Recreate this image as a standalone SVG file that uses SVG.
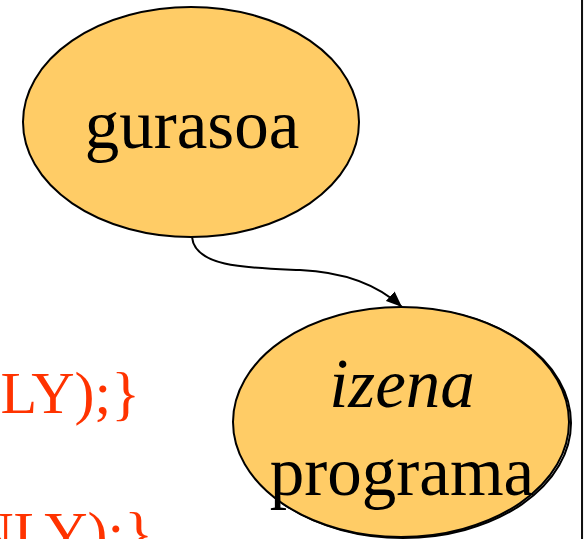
<svg xmlns="http://www.w3.org/2000/svg" width="584" height="539" viewBox="0 0 584 539">
<style>
.node{fill:#FFCC66;stroke:#000;stroke-width:2}
.lbl{font-family:"Liberation Serif","Times New Roman",serif;font-size:69px;fill:#000;text-anchor:middle}
.code{font-family:"Liberation Serif","Times New Roman",serif;font-size:60px;fill:#FF3300;text-anchor:end}
.edge{fill:none;stroke:#000;stroke-width:2}
</style>
<defs>
<marker id="arr" markerUnits="userSpaceOnUse" markerWidth="17" markerHeight="13" refX="16" refY="6.5" orient="auto">
<path d="M0,0 L16,6.5 L0,13 z" fill="#000"/>
</marker>
</defs>
<rect x="0" y="0" width="584" height="539" fill="#fff"/>
<rect x="582" y="0" width="2" height="539" fill="#f4f4f4"/>
<line x1="582" y1="0" x2="582" y2="539" stroke="#111" stroke-width="2"/>
<g id="code">
<text class="code" x="140" y="413">LY);}</text>
<text class="code" x="153" y="553">NLY);}</text>
</g>
<g id="connectors">
<path class="edge" d="M192,237 C195,268 250,268 300,270 C345,272 378,285 402,307" marker-end="url(#arr)"/>
</g>
<g id="gurasoa">
<ellipse class="node" cx="191" cy="122" rx="168" ry="115"/>
<text class="lbl" x="192" y="148">gurasoa</text>
</g>
<g id="programa">
<ellipse cx="403" cy="423" rx="168" ry="115" fill="none" stroke="#000" stroke-width="2"/>
<ellipse class="node" cx="401" cy="422" rx="168" ry="115"/>
<text class="lbl" x="402" y="407" font-style="italic">izena</text>
<text class="lbl" x="402" y="495">programa</text>
</g>
</svg>
